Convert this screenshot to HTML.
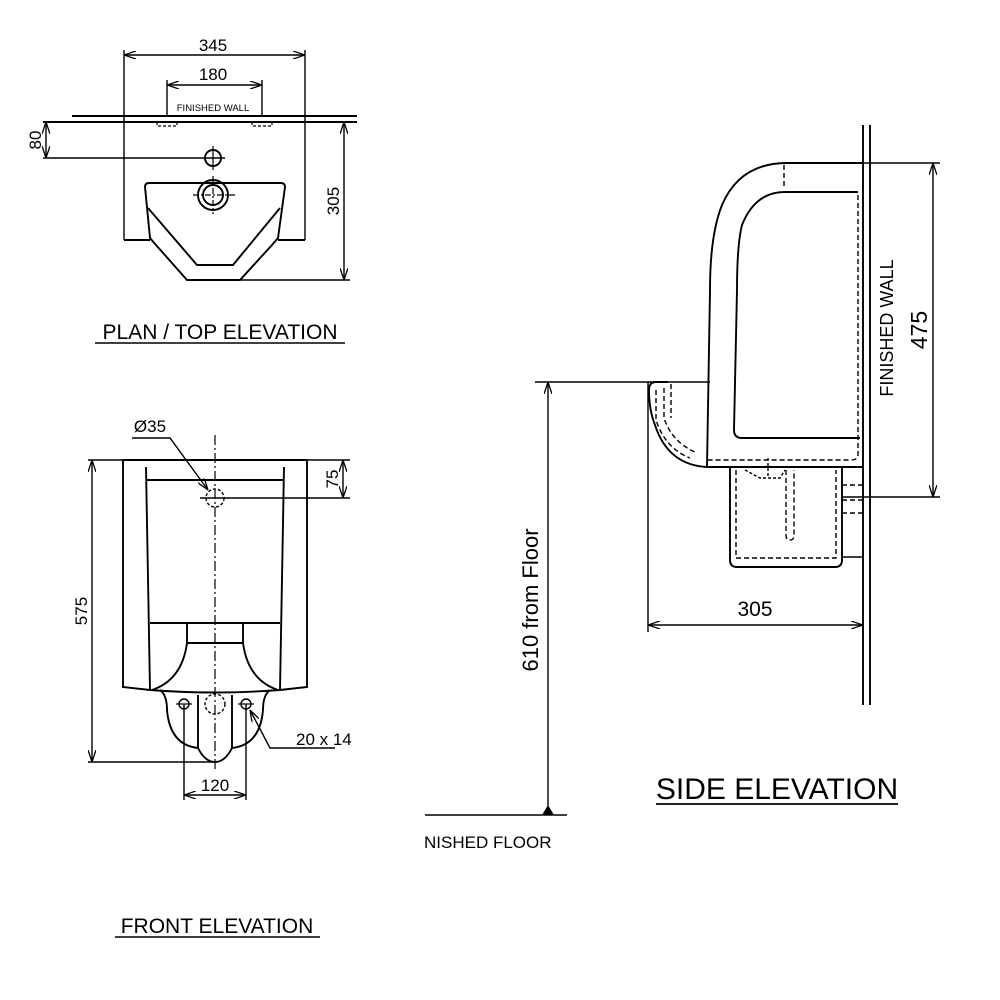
<!DOCTYPE html>
<html><head><meta charset="utf-8"><style>
html,body{margin:0;padding:0;background:#fff;}
svg{display:block;}
text{font-family:"Liberation Sans",sans-serif;fill:#000;}
</style></head><body>
<svg width="1000" height="1000" viewBox="0 0 1000 1000" xmlns="http://www.w3.org/2000/svg">
<defs>
<marker id="a" viewBox="0 0 12 8" refX="12" refY="4" markerWidth="12" markerHeight="8" orient="auto-start-reverse" markerUnits="userSpaceOnUse">
<path d="M0,0 L12,4 L0,8" fill="none" stroke="#000" stroke-width="1.3"/></marker>
</defs>
<g fill="none" stroke="#000" stroke-width="1.9">
<!-- PLAN -->
<line x1="72" y1="116" x2="357" y2="116"/>
<line x1="43" y1="122" x2="357" y2="122"/>
<line x1="124" y1="50" x2="124" y2="240" stroke-width="1.4"/>
<line x1="305" y1="50" x2="305" y2="240" stroke-width="1.4"/>
<line x1="124" y1="240" x2="150" y2="240"/>
<line x1="278" y1="240" x2="305" y2="240"/>
<line x1="124" y1="55" x2="305" y2="55" marker-start="url(#a)" marker-end="url(#a)" stroke-width="1.4"/>
<line x1="167" y1="80" x2="167" y2="116" stroke-width="1.4"/>
<line x1="262" y1="80" x2="262" y2="116" stroke-width="1.4"/>
<line x1="167" y1="85" x2="262" y2="85" marker-start="url(#a)" marker-end="url(#a)" stroke-width="1.4"/>
<path d="M157,122 v4 h20 v-4 M252,122 v4 h20 v-4" stroke-dasharray="3,2" stroke-width="1.2"/>
<circle cx="213" cy="158" r="8"/>
<line x1="43" y1="158" x2="225" y2="158" stroke-width="1.4"/>
<line x1="213" y1="146" x2="213" y2="170" stroke-width="1.2"/>
<line x1="46" y1="122" x2="46" y2="158" marker-start="url(#a)" marker-end="url(#a)" stroke-width="1.4"/>
<path d="M149,183 L281,183 Q285,183 285,187 L278,238 L272,245 L240,280 L187,280 L156,245 L150,238 L145,187 Q145,183 149,183 Z"/>
<path d="M148,208 L197,265 L233,265 L280,208"/>
<circle cx="213" cy="195" r="15"/>
<circle cx="213" cy="195" r="10"/>
<line x1="193" y1="195" x2="237" y2="195" stroke-dasharray="6,2,2,2" stroke-width="1.2"/>
<line x1="213" y1="176" x2="213" y2="214" stroke-dasharray="6,2,2,2" stroke-width="1.2"/>
<line x1="240" y1="280" x2="350" y2="280" stroke-width="1.4"/>
<line x1="344" y1="122" x2="344" y2="280" marker-start="url(#a)" marker-end="url(#a)" stroke-width="1.4"/>
<line x1="95" y1="343" x2="345" y2="343" stroke-width="1.4"/>

<!-- FRONT -->
<path d="M123,460 L307,460 L307,687 L280,690 Q215,695 150,690 L123,687 Z"/>
<line x1="146" y1="467" x2="150" y2="690"/>
<line x1="284" y1="467" x2="280" y2="690"/>
<line x1="146" y1="480" x2="283" y2="480"/>
<line x1="150" y1="623" x2="280" y2="623"/>
<path d="M187,623 V643 H243 V623"/>
<path d="M187,643 Q182,680 152,690 M243,643 Q248,680 278,690"/>
<path d="M160,690 Q167,695 167,710 Q170,745 198,748 Q205,762 215,762 Q225,762 232,748 Q260,745 263,710 Q263,695 270,690"/>
<line x1="198" y1="695" x2="198" y2="748"/>
<line x1="232" y1="695" x2="232" y2="748"/>
<circle cx="184" cy="704" r="5" stroke-width="1.4"/>
<circle cx="246" cy="704" r="5" stroke-width="1.4"/>
<line x1="176" y1="704" x2="192" y2="704" stroke-width="1.2"/>
<line x1="238" y1="704" x2="254" y2="704" stroke-width="1.2"/>
<circle cx="215" cy="704" r="10" stroke-dasharray="3,2" stroke-width="1.4"/>
<circle cx="215" cy="498" r="9" stroke-dasharray="3,2" stroke-width="1.4"/>
<line x1="215" y1="435" x2="215" y2="772" stroke-dasharray="10,3,2,3" stroke-width="1.2"/>
<line x1="200" y1="498" x2="350" y2="498" stroke-width="1.4"/>
<line x1="307" y1="460" x2="350" y2="460" stroke-width="1.4"/>
<line x1="88" y1="460" x2="123" y2="460" stroke-width="1.4"/>
<line x1="343" y1="460" x2="343" y2="498" marker-start="url(#a)" marker-end="url(#a)" stroke-width="1.4"/>
<line x1="88" y1="762" x2="215" y2="762" stroke-width="1.4"/>
<line x1="92" y1="460" x2="92" y2="762" marker-start="url(#a)" marker-end="url(#a)" stroke-width="1.4"/>
<polyline points="132,438 170,438 208,490" marker-end="url(#a)" stroke-width="1.4"/>
<polyline points="335,748 270,748 250,710" marker-end="url(#a)" stroke-width="1.4"/>
<line x1="184" y1="704" x2="184" y2="800" stroke-width="1.4"/>
<line x1="246" y1="704" x2="246" y2="800" stroke-width="1.4"/>
<line x1="184" y1="795" x2="246" y2="795" marker-start="url(#a)" marker-end="url(#a)" stroke-width="1.4"/>
<line x1="115" y1="937" x2="320" y2="937" stroke-width="1.4"/>

<!-- SIDE -->
<line x1="863" y1="125" x2="863" y2="705"/>
<line x1="870" y1="125" x2="870" y2="705"/>
<path d="M863,163 L787,163 Q740,163 722,205 Q710,235 710,290 L707,467 L863,467"/>
<path d="M858,192 L785,192 Q755,192 742,225 Q737,245 737,290 L734,430 Q734,438 742,438 L860,438"/>
<path d="M858,195 V455 Q858,460 850,460 L707,460" stroke-dasharray="5,3" stroke-width="1.4"/>
<path d="M784,165 V188" stroke-dasharray="5,3" stroke-width="1.4"/>
<line x1="535" y1="382" x2="710" y2="382" stroke-width="1.4"/>
<path d="M707,467 Q668,465 655,425 Q649,410 649,390 Q649,382 656,382 L668,382"/>
<path d="M656,390 V420 Q665,448 690,458 M664,388 V418 Q672,442 695,452 M671,384 V418" stroke-dasharray="5,3" stroke-width="1.4"/>
<path d="M730,467 V560 Q730,567 737,567 L835,567 Q842,567 842,560 V467"/>
<path d="M736,470 V558 H836 V470" stroke-dasharray="5,3" stroke-width="1.4"/>
<path d="M786,470 V535 Q786,540 790,540 Q794,540 794,535 V470" stroke-dasharray="5,3" stroke-width="1.4"/>
<path d="M745,470 L760,478 L780,478 L785,470 M768,458 V478" stroke-dasharray="3,2" stroke-width="1.4"/>
<path d="M842,485 H863 M842,500 H863 M842,513 H863" stroke-dasharray="5,3" stroke-width="1.4"/>
<line x1="842" y1="557" x2="863" y2="557" stroke-width="1.4"/>
<line x1="863" y1="163" x2="940" y2="163" stroke-width="1.4"/>
<line x1="842" y1="497" x2="940" y2="497" stroke-width="1.4"/>
<line x1="933" y1="163" x2="933" y2="497" marker-start="url(#a)" marker-end="url(#a)" stroke-width="1.4"/>
<line x1="648" y1="382" x2="648" y2="632" stroke-width="1.4"/>
<line x1="648" y1="625" x2="863" y2="625" marker-start="url(#a)" marker-end="url(#a)" stroke-width="1.4"/>
<line x1="548" y1="382" x2="548" y2="812" marker-start="url(#a)" stroke-width="1.4"/>
<line x1="425" y1="815" x2="567" y2="815" stroke-width="1.4"/>
<line x1="656" y1="804" x2="898" y2="804" stroke-width="1.8"/>
</g>
<polygon points="548,805 542,815 554,815" fill="#000"/>

<text x="213" y="51" font-size="17" text-anchor="middle">345</text>
<text x="213" y="80" font-size="17" text-anchor="middle">180</text>
<text x="213" y="111" font-size="9.5" text-anchor="middle">FINISHED WALL</text>
<text transform="translate(41,140) rotate(-90)" font-size="17" text-anchor="middle">80</text>
<text transform="translate(339,201) rotate(-90)" font-size="17" text-anchor="middle">305</text>
<text x="220" y="339" font-size="21" text-anchor="middle">PLAN / TOP ELEVATION</text>

<text x="150" y="432" font-size="17" text-anchor="middle">Ø35</text>
<text transform="translate(338,479) rotate(-90)" font-size="17" text-anchor="middle">75</text>
<text transform="translate(87,611) rotate(-90)" font-size="17" text-anchor="middle">575</text>
<text x="296" y="745" font-size="17">20 x 14</text>
<text x="215" y="791" font-size="17" text-anchor="middle">120</text>
<text x="217" y="933" font-size="21" text-anchor="middle">FRONT ELEVATION</text>

<text transform="translate(893,328) rotate(-90)" font-size="18" text-anchor="middle">FINISHED WALL</text>
<text transform="translate(927,330) rotate(-90)" font-size="23" text-anchor="middle">475</text>
<text x="755" y="616" font-size="21" text-anchor="middle">305</text>
<text transform="translate(538,600) rotate(-90)" font-size="22" text-anchor="middle">610 from Floor</text>
<text x="424" y="848" font-size="17">NISHED FLOOR</text>
<text x="777" y="799" font-size="30" text-anchor="middle">SIDE ELEVATION</text>
</svg>
</body></html>
